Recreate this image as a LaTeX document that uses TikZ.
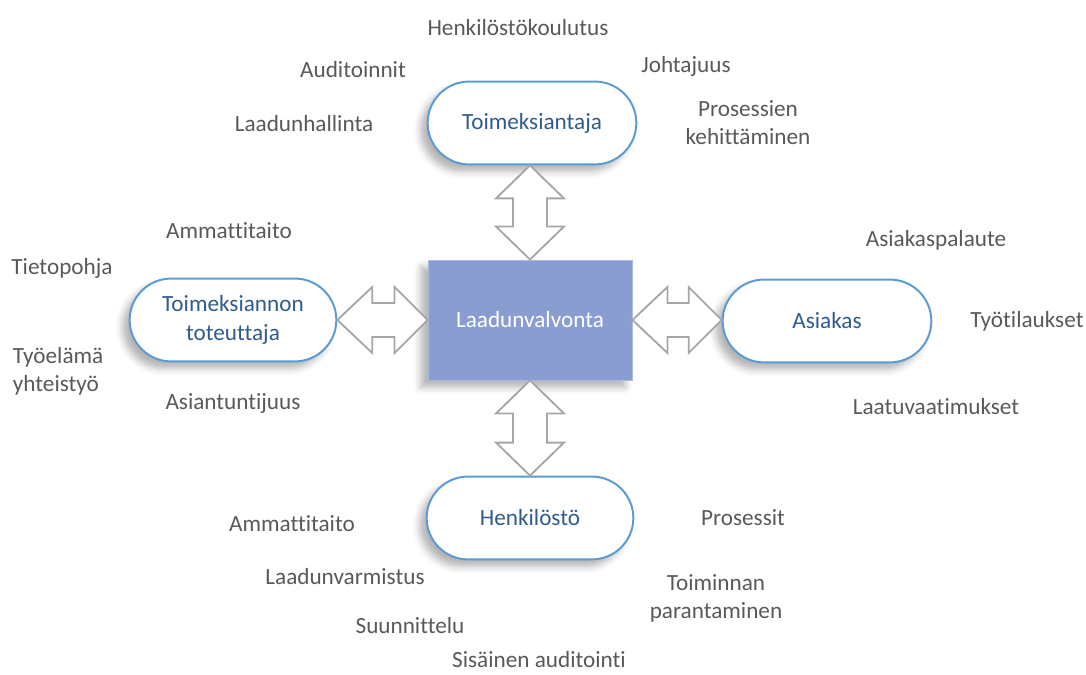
\documentclass[tikz,border=0pt]{standalone}
\usepackage{fontspec}
\setmainfont[Ligatures=NoCommon]{Carlito}
\usetikzlibrary{calc,shapes.misc,shadows.blur}
\definecolor{bordo}{HTML}{5B9BD5}
\definecolor{testoblu}{HTML}{2E5C8F}
\definecolor{grigio}{HTML}{595959}
\definecolor{freccia}{HTML}{A6A6A6}
\definecolor{centro}{HTML}{8A9DD1}

% doppia freccia orizzontale: #1 punta sinistra, #2 punta destra
\newcommand{\frecciaorizz}[2]{%
	\draw[doppia] (#1) -- ++(35,33) -- ++(0,-16) -- ($(#2)+(-33,17)$) -- ++(0,16)
	-- (#2) -- ++(-33,-33) -- ++(0,16) -- ($(#1)+(35,-17)$) -- ++(0,-16) -- cycle;}
% doppia freccia verticale: #1 punta alta, #2 punta bassa
\newcommand{\frecciavert}[2]{%
	\draw[doppia] (#1) -- ++(34,-33) -- ++(-17,0) -- ($(#2)+(17,33)$) -- ++(17,0)
	-- (#2) -- ++(-34,33) -- ++(17,0) -- ($(#1)+(-17,-33)$) -- ++(-17,0) -- cycle;}

\begin{document}
\begin{tikzpicture}[x=0.025cm, y=0.025cm, font=\fontsize{16.5}{20}\selectfont,
	ombra/.style={blur shadow={shadow xshift=-5pt, shadow yshift=-5pt,
			shadow blur radius=5pt, shadow opacity=30}},
	capsula/.style={rounded rectangle, draw=bordo, line width=1.4pt, fill=white,
		minimum width=5.2cm, minimum height=2.07cm, text=testoblu, align=center, ombra},
	doppia/.style={draw=freccia, line width=1.3pt, fill=white, line join=miter},
	etichetta/.style={text=grigio, align=center}]

	\useasboundingbox (0,0) rectangle (1086,675);

	% ---- nodi principali ----
	\node[rectangle, fill=centro, draw=centro!70!white, line width=0.6pt, text=white,
		minimum width=5.1cm, minimum height=3cm, ombra] (laatu) at (530,355) {Laadunvalvonta};
	\node[capsula, minimum width=5.45cm] (toim) at (532,552) {Toimeksiantaja};
	\node[capsula, minimum width=5.45cm] (asiakas) at (827,354) {Asiakas};
	\node[capsula, minimum width=5.4cm] (tot) at (233,355) {Toimeksiannon\\ toteuttaja};
	\node[capsula, minimum width=5.4cm] (henk) at (530,157) {Henkilöstö};

	% ---- punte delle frecce ----
	\coordinate (su) at (laatu.north |- toim.south);
	\coordinate (giu) at (laatu.south |- henk.north);
	\coordinate (sx) at (laatu.west -| tot.east);
	\coordinate (dx) at (laatu.east -| asiakas.west);

	% ---- frecce doppie ----
	\frecciavert{su}{laatu.north}
	\frecciavert{laatu.south}{giu}
	\frecciaorizz{sx}{laatu.west}
	\frecciaorizz{laatu.east}{dx}

	% ---- Toimeksiantaja ----
	\node[etichetta] (koulutus) at (518,647) {Henkilöstökoulutus};
	\node[etichetta] (audit) at (353,605) {Auditoinnit};
	\node[etichetta] (johto) at (686,609) {Johtajuus};
	\node[etichetta] (hallinta) at (304,551) {Laadunhallinta};
	\node[etichetta] (kehitys) at (748,552) {Prosessien\\ kehittäminen};

	% ---- Toimeksiannon toteuttaja ----
	\node[etichetta] (taito1) at (229,444) {Ammattitaito};
	\node[etichetta] (tieto) at (62,407) {Tietopohja};
	\node[etichetta, align=left, anchor=west] (tyoelama) at (8,304) {Työelämä\\ yhteistyö};
	\node[etichetta] (asiantunt) at (233,271) {Asiantuntijuus};

	% ---- Asiakas ----
	\node[etichetta] (palaute) at (936,435) {Asiakaspalaute};
	\node[etichetta] (tilaukset) at (1027,354) {Työtilaukset};
	\node[etichetta] (vaatimus) at (936,268) {Laatuvaatimukset};

	% ---- Henkilöstö ----
	\node[etichetta] (taito2) at (292,151) {Ammattitaito};
	\node[etichetta] (prosessit) at (743,157) {Prosessit};
	\node[etichetta] (varmistus) at (345,98) {Laadunvarmistus};
	\node[etichetta] (parannus) at (716,77) {Toiminnan\\ parantaminen};
	\node[etichetta] (suunnittelu) at (410,49) {Suunnittelu};
	\node[etichetta] (sisaudit) at (539,15) {Sisäinen auditointi};

\end{tikzpicture}
\end{document}
